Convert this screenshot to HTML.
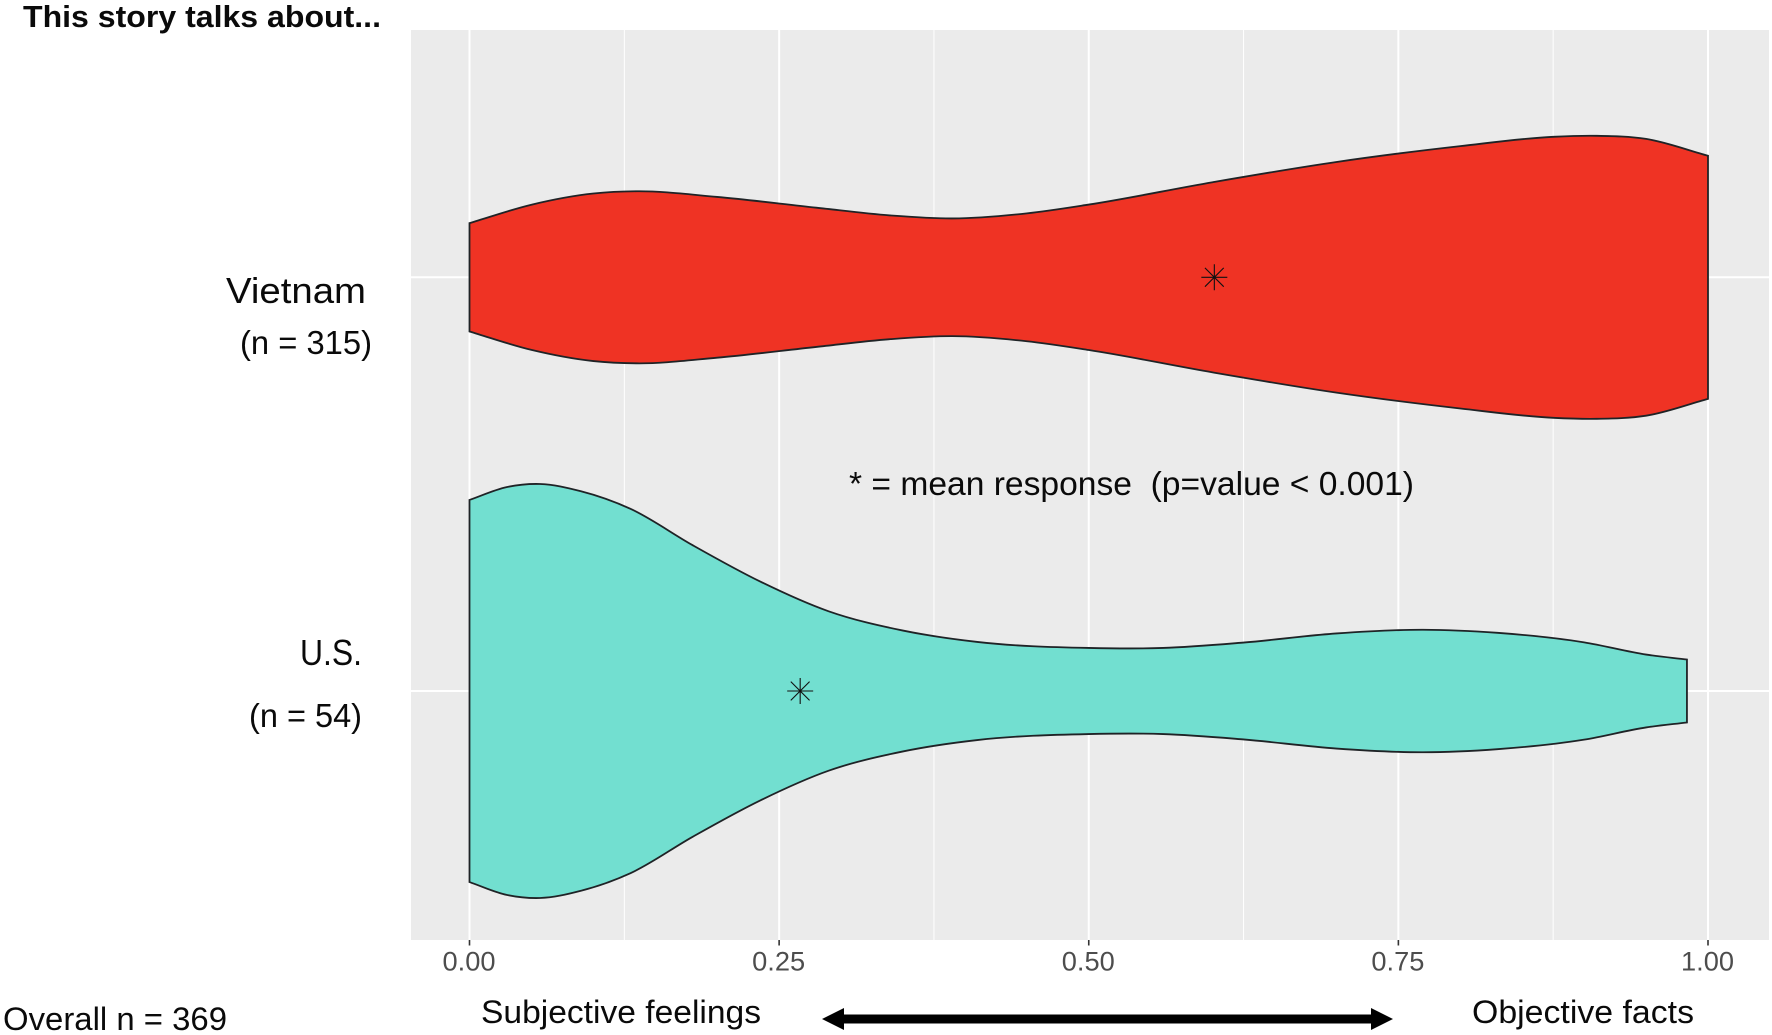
<!DOCTYPE html>
<html lang="en">
<head>
<meta charset="utf-8">
<title>This story talks about...</title>
<style>
html,body{margin:0;padding:0;background:#fff;width:1772px;height:1035px;overflow:hidden}
svg{display:block}
text{font-family:"Liberation Sans",sans-serif;fill:#0a0a0a}
.lab{white-space:pre}
</style>
</head>
<body>
<svg id="chart" xmlns="http://www.w3.org/2000/svg" width="1772" height="1035" viewBox="0 0 1772 1035">
  <rect x="411" y="30" width="1358" height="910" fill="#ebebeb"/>
  <g id="grid"></g>
  <g id="violins"></g>
  <g id="means"></g>
  <g id="ticks"></g>

  <text x="23" y="27" font-size="31" font-weight="700" textLength="358" lengthAdjust="spacingAndGlyphs">This story talks about...</text>
  <text x="226" y="303" font-size="36" textLength="140" lengthAdjust="spacingAndGlyphs">Vietnam</text>
  <text x="240" y="354" font-size="33" textLength="132" lengthAdjust="spacingAndGlyphs">(n = 315)</text>
  <text x="300" y="665" font-size="36" textLength="62" lengthAdjust="spacingAndGlyphs">U.S.</text>
  <text x="249" y="727" font-size="33" textLength="113" lengthAdjust="spacingAndGlyphs">(n = 54)</text>
  <text class="lab" x="849" y="495" font-size="33" textLength="565" lengthAdjust="spacingAndGlyphs" xml:space="preserve">* = mean response  (p=value &lt; 0.001)</text>
  <text x="3" y="1030" font-size="32" textLength="224" lengthAdjust="spacingAndGlyphs">Overall n = 369</text>
  <text x="481" y="1023" font-size="32" textLength="280" lengthAdjust="spacingAndGlyphs">Subjective feelings</text>
  <text x="1472" y="1023" font-size="32" textLength="222" lengthAdjust="spacingAndGlyphs">Objective facts</text>
  <polygon fill="#000" points="822,1019 844,1008 844,1014.5 1371,1014.5 1371,1008 1393,1019 1371,1030 1371,1023.5 844,1023.5 844,1030"/>
</svg>
<script>
// ---- chart data ----
var tickValues = [0, 0.25, 0.5, 0.75, 1];
var tickLabels = ["0.00", "0.25", "0.50", "0.75", "1.00"];
var minorBreaks = [0.125, 0.375, 0.625, 0.875];
var categories = ["Vietnam", "U.S."];
var vietnamX = [0,.05,.10,.135,.20,.28,.34,.39,.45,.50,.60,.70,.80,.875,.91,.95,1];
var vietnamDensity = [.383,.513,.592,.608,.568,.492,.437,.416,.452,.514,.672,.815,.927,.993,1,.978,.859];
var usX = [0,.03,.057,.09,.13,.18,.235,.29,.35,.41,.50,.56,.625,.70,.77,.83,.90,.95,.983];
var usDensity = [.923,.985,1,.965,.88,.705,.528,.385,.292,.237,.208,.208,.234,.278,.296,.281,.235,.176,.152];
var meanValues = [0.6014, 0.267];

// ---- axis functions ----
var NS = "http://www.w3.org/2000/svg";
function xScale(v){ return 469.5 + v * 1238.5; }
function yBand(i){ return i === 0 ? 277.3 : 691; }
function widthScale(d, i){ return d * (i === 0 ? 141.5 : 207); }

function make(tag, attrs, parent){
  var el = document.createElementNS(NS, tag);
  for (var k in attrs) el.setAttribute(k, attrs[k]);
  parent.appendChild(el);
  return el;
}
// Hermite curve through points with x-aware tangents (drawn as cubic beziers)
function smooth(pts){
  var n = pts.length, m = [];
  for (var i = 0; i < n; i++){
    if (i === 0){
      m[i] = (pts[1][1]-pts[0][1])/(pts[1][0]-pts[0][0]);
    } else if (i === n-1){
      m[i] = (pts[n-1][1]-pts[n-2][1])/(pts[n-1][0]-pts[n-2][0]);
    } else {
      var h0 = pts[i][0]-pts[i-1][0], h1 = pts[i+1][0]-pts[i][0];
      var s0 = (pts[i][1]-pts[i-1][1])/h0, s1 = (pts[i+1][1]-pts[i][1])/h1;
      m[i] = (h1*s0 + h0*s1)/(h0+h1);
    }
  }
  var d = "";
  for (var j = 0; j < n-1; j++){
    var h = pts[j+1][0]-pts[j][0];
    d += " C" + (pts[j][0]+h/3).toFixed(2) + "," + (pts[j][1]+m[j]*h/3).toFixed(2) + " " +
         (pts[j+1][0]-h/3).toFixed(2) + "," + (pts[j+1][1]-m[j+1]*h/3).toFixed(2) + " " +
         pts[j+1][0].toFixed(2) + "," + pts[j+1][1].toFixed(2);
  }
  return d;
}

// ---- grid ----
var grid = document.getElementById("grid");
minorBreaks.forEach(function(v){
  var l = make("line", {x1:xScale(v), x2:xScale(v), y1:30, y2:940, stroke:"#fff", "stroke-width":1}, grid);
  
  
});
tickValues.forEach(function(v){
  var l = make("line", {x1:xScale(v), x2:xScale(v), y1:30, y2:940, stroke:"#fff", "stroke-width":2}, grid);
  
  
});
categories.forEach(function(c, i){
  var l = make("line", {x1:411, x2:1769, y1:yBand(i), y2:yBand(i), stroke:"#fff", "stroke-width":2}, grid);
  
  
});

// ---- violins ----
var violins = document.getElementById("violins");
function drawViolin(xs, ds, i, fill, name){
  var top = xs.map(function(x, k){ return [xScale(x), yBand(i) - widthScale(ds[k], i)]; });
  var bottom = xs.map(function(x, k){ return [xScale(x), yBand(i) + widthScale(ds[k], i)]; }).reverse();
  var d = "M" + top[0][0] + "," + top[0][1] + smooth(top) +
          " L" + bottom[0][0] + "," + bottom[0][1] + smooth(bottom) + " Z";
  var p = make("path", {d:d, fill:fill, stroke:"#1f2326", "stroke-width":1.8, "stroke-linejoin":"miter"}, violins);
  
  
}
drawViolin(vietnamX, vietnamDensity, 0, "#ef3324", "violin-vietnam");
drawViolin(usX, usDensity, 1, "#72dfd0", "violin-us");

// ---- mean markers ----
var means = document.getElementById("means");
meanValues.forEach(function(v, i){
  var cx = xScale(v), cy = yBand(i), r = 13, q = 9.4;
  var d = "M"+(cx-r)+","+cy+"H"+(cx+r)+"M"+cx+","+(cy-r)+"V"+(cy+r)+
          "M"+(cx-q)+","+(cy-q)+"L"+(cx+q)+","+(cy+q)+"M"+(cx-q)+","+(cy+q)+"L"+(cx+q)+","+(cy-q);
  var m = make("path", {d:d, fill:"none", stroke:"#111", "stroke-width":1.1}, means);
  
  
});

// ---- x axis ----
var ticks = document.getElementById("ticks");
tickValues.forEach(function(v, i){
  var t = make("line", {x1:xScale(v), x2:xScale(v), y1:940, y2:945.5, stroke:"#333", "stroke-width":1.6}, ticks);
  
  
  var lab = make("text", {x:xScale(v) - 0.5, y:970.5, "font-size":27, "text-anchor":"middle", textLength:53, lengthAdjust:"spacingAndGlyphs", style:"fill:#4d4d4d"}, ticks);
  lab.textContent = tickLabels[i];
  
  
});
</script>
</body>
</html>
